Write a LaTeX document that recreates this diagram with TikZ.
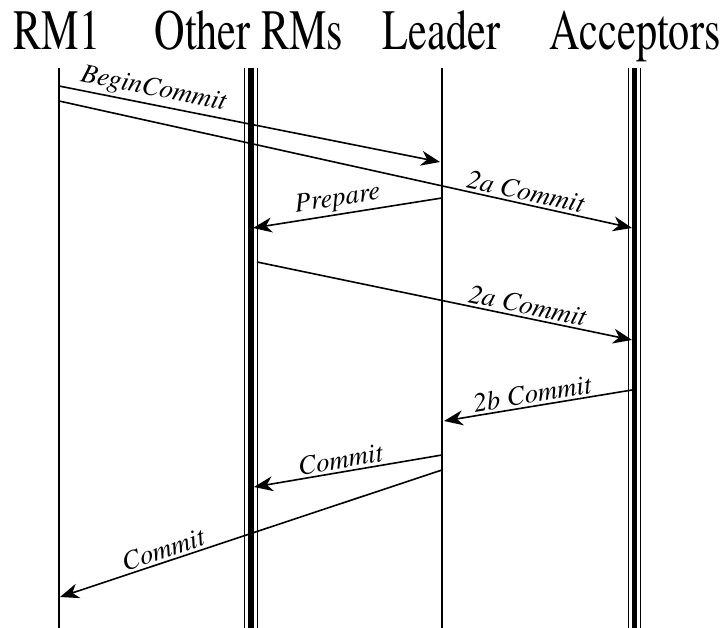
\documentclass[tikz,border=0pt]{standalone}
\usepackage[T1]{fontenc}
\usepackage{times}
\usetikzlibrary{arrows.meta}
\begin{document}
\begin{tikzpicture}[x=1pt,y=1pt,
 title/.style={anchor=base, inner sep=0pt, font=\fontsize{57}{60}\selectfont},
 lbl/.style={sloped, above, inner sep=2.5pt, font=\fontsize{27}{29}\selectfont\itshape},
 msg/.style={line width=1.6pt, -{Stealth[length=19pt,width=15pt,inset=6pt]}},
 life/.style={line width=1.6pt},
 thinl/.style={line width=1.8pt},
 thickl/.style={line width=5.5pt}]
\useasboundingbox (0,0) rectangle (726,628);
% titles
\node[title] (t1) at (57,578) {\scalebox{0.74}[1]{RM1}};
\node[title] (t2) at (249,578) {\scalebox{0.74}[1]{Other RMs}};
\node[title] (t3) at (441.5,578) {\scalebox{0.74}[1]{Leader}};
\node[title] (t4) at (635,578) {\scalebox{0.74}[1]{Acceptors}};
% lifeline end points
\coordinate (r1top) at (59,560);   \coordinate (r1bot) at (59,0);
\coordinate (ldtop) at (442,560);  \coordinate (ldbot) at (442,0);
\coordinate (ortop) at (251,560);  \coordinate (orbot) at (251,0);
\coordinate (actop) at (634.5,560);\coordinate (acbot) at (634.5,0);
% lifelines
\draw[life] (r1top) -- (r1bot);
\draw[life] (ldtop) -- (ldbot);
\draw[thickl] (ortop) -- (orbot);
\draw[thinl] ([xshift=-6.5pt]ortop) -- ([xshift=-6.5pt]orbot);
\draw[thinl] ([xshift=6.5pt]ortop) -- ([xshift=6.5pt]orbot);
\draw[thickl] (actop) -- (acbot);
\draw[thinl] ([xshift=-6pt]actop) -- ([xshift=-6pt]acbot);
\draw[thinl] ([xshift=6pt]actop) -- ([xshift=6pt]acbot);
% message end points
\coordinate (bcA) at (59,542);  \coordinate (bcB) at (440,466);
\coordinate (aaA) at (59,527);  \coordinate (aaB) at (632,400);
\coordinate (prA) at (442,430); \coordinate (prB) at (253,400);
\coordinate (abA) at (257,366); \coordinate (abB) at (632,288);
\coordinate (bbA) at (632,238); \coordinate (bbB) at (444,207);
\coordinate (c1A) at (442,173); \coordinate (c1B) at (254,141);
\coordinate (c2A) at (442,158); \coordinate (c2B) at (60,31);
% messages
\draw[msg] (bcA) -- node[lbl, pos=0.24] (lbc) {BeginCommit} (bcB);
\draw[msg] (aaA) -- node[lbl, pos=0.81] (laa) {2a Commit} (aaB);
\draw[msg] (prA) -- node[lbl, pos=0.54] (lpr) {Prepare} (prB);
\draw[msg] (abA) -- node[lbl, pos=0.715] (lab) {2a Commit} (abB);
\draw[msg] (bbA) -- node[lbl, pos=0.52] (lbb) {2b Commit} (bbB);
\draw[msg] (c1A) -- node[lbl, pos=0.53] (lc1) {Commit} (c1B);
\draw[msg] (c2A) -- node[lbl, pos=0.72] (lc2) {Commit} (c2B);
\end{tikzpicture}
\end{document}
